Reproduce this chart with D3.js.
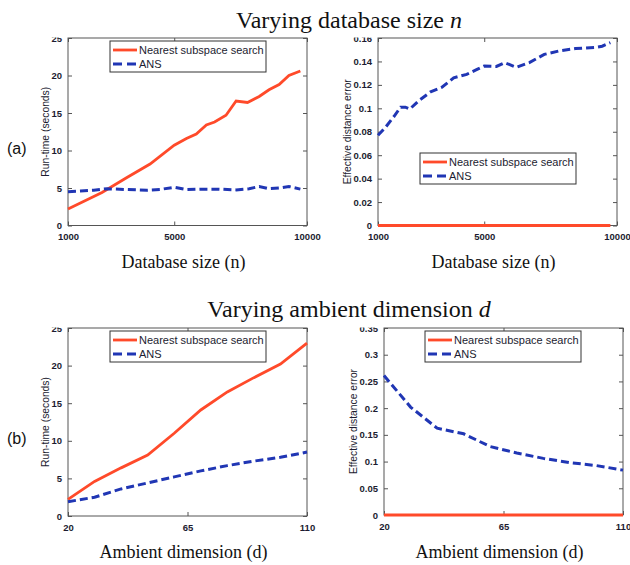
<!DOCTYPE html>
<html><head><meta charset="utf-8">
<script src="https://cdn.jsdelivr.net/npm/d3@7"></script>
<style>body{margin:0;background:#fff}svg{display:block}</style>
</head><body><svg id="c" width="630" height="565"></svg>
<script>
// ---- Data ----
const seriesNames = ["Nearest subspace search", "ANS"];

// (a) run-time vs database size n
const aTimeNSS_x = [1000,2280,3220,4090,5000,5460,5830,6210,6520,6950,7330,7760,8200,8570,8950,9320,9750];
const aTimeNSS_y = [2.2,4.4,6.4,8.2,10.7,11.6,12.2,13.4,13.8,14.7,16.6,16.4,17.2,18.1,18.8,20.0,20.6];
const aTimeANS_x = [1000,1470,1970,2470,3220,3970,4460,5000,5460,5960,6700,7330,7820,8200,8570,8950,9320,9750];
const aTimeANS_y = [4.5,4.6,4.7,4.9,4.8,4.7,4.8,5.1,4.8,4.85,4.85,4.75,4.9,5.2,4.9,5.0,5.2,4.85];

// (a) effective distance error vs n
const aErrNSS_x = [1000,9750];
const aErrNSS_y = [0,0];
const aErrANS_x = [1000,1290,1600,1850,2030,2200,2540,2980,3410,3850,4340,4710,5000,5460,5770,6210,6700,7260,7820,8440,9190,9440,9750];
const aErrANS_y = [0.077,0.084,0.093,0.101,0.101,0.0994,0.1066,0.114,0.118,0.126,0.129,0.133,0.136,0.1357,0.139,0.135,0.139,0.146,0.149,0.151,0.152,0.153,0.156];

// (b) vs ambient dimension d
const dims = [20,30,40,50,60,70,80,90,100,110];
const bTimeNSS = [2.2,4.6,6.4,8.1,11.0,14.1,16.5,18.4,20.2,23.0];
const bTimeANS = [1.9,2.5,3.6,4.4,5.2,6.0,6.7,7.3,7.8,8.5];
const bErrNSS = [0,0,0,0,0,0,0,0,0,0];
const bErrANS = [0.261,0.202,0.1625,0.152,0.128,0.116,0.106,0.098,0.0925,0.084];

// ticks
const nTicks = [1000,5000,10000];
const dTicks = [20,65,110];
const timeTicks = [0,5,10,15,20,25];
const errATicks = [0,0.02,0.04,0.06,0.08,0.1,0.12,0.14,0.16];
const errBTicks = [0,0.05,0.1,0.15,0.2,0.25,0.3,0.35];

// ---- Drawing ----
const svg = d3.select("#c");
const RED = "#ff4a2a", BLUE = "#2036b4";
const zip = (xs, ys) => xs.map((x,i)=>[x,ys[i]]);

const panels = [
  {L:68,R:307,T:38,B:225.5, xd:[1000,10000], yd:[0,25], xt:nTicks, yt:timeTicks, ylab:"Run-time (seconds)", ylx:45,
   xlab:"Database size (n)", xly:268, leg:{x:110,y:41},
   s:[zip(aTimeNSS_x,aTimeNSS_y), zip(aTimeANS_x,aTimeANS_y)]},
  {L:378,R:617,T:38,B:225.5, xd:[1000,10000], yd:[0,0.16], xt:nTicks, yt:errATicks, ylab:"Effective distance error", ylx:347,
   xlab:"Database size (n)", xly:268, leg:{x:420,y:153},
   s:[zip(aErrNSS_x,aErrNSS_y), zip(aErrANS_x,aErrANS_y)]},
  {L:68,R:307,T:328,B:516, xd:[20,110], yd:[0,25], xt:dTicks, yt:timeTicks, ylab:"Run-time (seconds)", ylx:45,
   xlab:"Ambient dimension (d)", xly:558, leg:{x:110,y:331},
   s:[zip(dims,bTimeNSS), zip(dims,bTimeANS)]},
  {L:384,R:623,T:328,B:515, xd:[20,110], yd:[0,0.35], xt:dTicks, yt:errBTicks, ylab:"Effective distance error", ylx:353,
   xlab:"Ambient dimension (d)", xly:558, leg:{x:425,y:331},
   s:[zip(dims,bErrNSS), zip(dims,bErrANS)]}
];

const fmt = v => String(+v.toFixed(3));

panels.forEach((p,pi) => {
  const x = d3.scaleLinear().domain(p.xd).range([p.L,p.R]);
  const y = d3.scaleLinear().domain(p.yd).range([p.B,p.T]);
  const g = svg.append("g");
  const cid = "clip"+pi;
  svg.append("clipPath").attr("id",cid).append("rect")
     .attr("x",-700).attr("y",p.T-0.5).attr("width",1400).attr("height",600);

  // axes with inward ticks on all sides
  const axL = d3.axisLeft(y).tickValues(p.yt).tickSizeInner(-4).tickSizeOuter(0).tickPadding(6).tickFormat(fmt);
  const axR = d3.axisRight(y).tickValues(p.yt).tickSizeInner(-4).tickSizeOuter(0).tickFormat("");
  const axB = d3.axisBottom(x).tickValues(p.xt).tickSizeInner(-4).tickSizeOuter(0).tickPadding(8).tickFormat(d3.format("d"));
  const axT = d3.axisTop(x).tickValues(p.xt).tickSizeInner(-4).tickSizeOuter(0).tickFormat("");
  const style = sel => {
    sel.select(".domain").remove();
    sel.selectAll("line").attr("stroke","#555");
    sel.selectAll("text").attr("font-family","Liberation Sans, Arial, sans-serif").attr("font-size",9.5)
       .attr("fill","#1c1c30").attr("font-weight","bold");
  };
  g.append("g").attr("transform",`translate(${p.L},0)`).attr("clip-path",`url(#${cid})`).call(axL).call(style);
  g.append("g").attr("transform",`translate(${p.R},0)`).call(axR).call(style);
  g.append("g").attr("transform",`translate(0,${p.B})`).call(axB).call(style);
  g.append("g").attr("transform",`translate(0,${p.T})`).call(axT).call(style);

  // box
  g.append("rect").attr("x",p.L).attr("y",p.T).attr("width",p.R-p.L).attr("height",p.B-p.T)
   .attr("fill","none").attr("stroke","#555").attr("stroke-width",1);

  const line = d3.line().x(d=>x(d[0])).y(d=>y(d[1]));
  g.append("path").datum(p.s[0]).attr("d",line).attr("fill","none").attr("stroke",RED).attr("stroke-width",2.8);
  g.append("path").datum(p.s[1]).attr("d",line).attr("fill","none").attr("stroke",BLUE).attr("stroke-width",3)
   .attr("stroke-dasharray","8,4");

  // legend
  const lg = g.append("g").attr("transform",`translate(${p.leg.x},${p.leg.y})`);
  lg.append("rect").attr("width",156).attr("height",31).attr("fill","#fff").attr("stroke","#333").attr("stroke-width",1);
  seriesNames.forEach((nm,i) => {
    const yy = 9 + i*14;
    lg.append("line").attr("x1",3).attr("x2",27).attr("y1",yy).attr("y2",yy)
      .attr("stroke", i===0?RED:BLUE).attr("stroke-width", i===0?2.8:3)
      .attr("stroke-dasharray", i===0?null:"9,5");
    lg.append("text").attr("x",29).attr("y",yy+4).text(nm)
      .attr("font-family","Liberation Sans, Arial, sans-serif").attr("font-size",11).attr("fill","#1c1c30");
  });

  // y label
  g.append("text").attr("transform",`translate(${p.ylx},${(p.T+p.B)/2}) rotate(-90)`)
   .attr("text-anchor","middle").attr("dy","0.35em").text(p.ylab)
   .attr("font-family","Liberation Sans, Arial, sans-serif").attr("font-size",10.3).attr("fill","#1c1c30");
  // x label
  g.append("text").attr("x",(p.L+p.R)/2 - 4).attr("y",p.xly).attr("text-anchor","middle").text(p.xlab)
   .attr("font-family","Liberation Serif, Times New Roman, serif").attr("font-size",18).attr("fill","#111");
});

// titles
const t1 = svg.append("text").attr("x",349).attr("y",28).attr("text-anchor","middle")
  .attr("font-family","Liberation Serif, Times New Roman, serif").attr("font-size",24).attr("fill","#111");
t1.append("tspan").text("Varying database size ");
t1.append("tspan").attr("font-style","italic").text("n");
const t2 = svg.append("text").attr("x",349).attr("y",317).attr("text-anchor","middle")
  .attr("font-family","Liberation Serif, Times New Roman, serif").attr("font-size",24).attr("fill","#111");
t2.append("tspan").text("Varying ambient dimension ");
t2.append("tspan").attr("font-style","italic").text("d");

// (a) (b)
[["(a)",148],["(b)",438]].forEach(([t,yy]) => {
  svg.append("text").attr("x",7).attr("y",yy).attr("dy","0.35em").text(t)
   .attr("font-family","Liberation Sans, Arial, sans-serif").attr("font-size",16).attr("fill","#111");
});
</script>
</body></html>
